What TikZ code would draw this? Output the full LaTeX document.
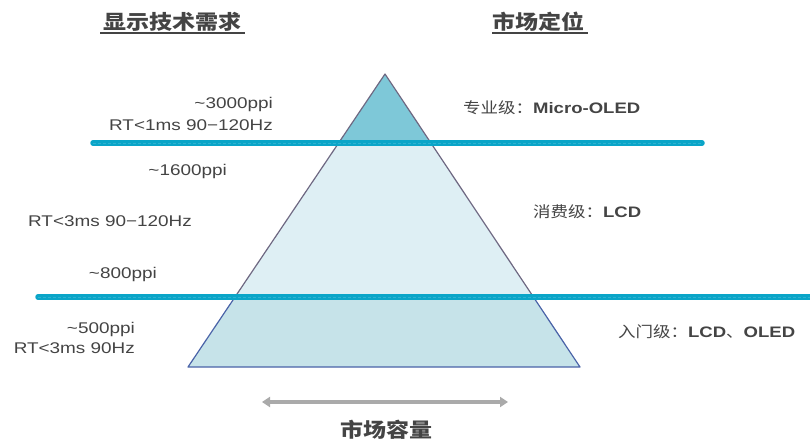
\documentclass[tikz,border=0pt]{standalone}
\usepackage{fontspec}
\setmainfont{Liberation Sans}[FakeStretch=1.22]
\newfontfamily\cjk{Noto Sans CJK SC}[FakeStretch=1.15]
\usetikzlibrary{arrows.meta}
\definecolor{txt}{RGB}{68,68,68}
\definecolor{topfill}{RGB}{126,200,216}
\definecolor{midfill}{RGB}{222,239,244}
\definecolor{botfill}{RGB}{198,227,233}
\definecolor{edgeA}{RGB}{110,104,130}
\definecolor{edgeB}{RGB}{74,99,168}
\definecolor{lineblue}{RGB}{10,165,200}
\definecolor{arrowgray}{RGB}{170,170,170}
\tikzset{
  lbl/.style={text=txt, inner sep=0pt, font=\fontsize{15.5}{18}\selectfont},
  cnlbl/.style={text=txt, inner sep=0pt, font=\fontsize{15.2}{18}\selectfont},
  head/.style={text=txt, inner sep=0pt, font=\fontsize{20}{24}\selectfont\cjk\bfseries},
  divline/.style={line width=5.5pt, lineblue, line cap=round},
  divdash/.style={line width=0.6pt, lineblue!85!white, dash pattern=on 3pt off 2pt},
}
\begin{document}
\begin{tikzpicture}[x=1pt,y=-1pt]
\useasboundingbox (0,0) rectangle (810,441);
% pyramid coordinates
\coordinate (A) at (385,74);
\coordinate (BL) at (188,367);
\coordinate (BR) at (580,367);
\coordinate (L1) at (338.6,143);
\coordinate (R1) at (430.9,143);
\coordinate (L2) at (235,297);
\coordinate (R2) at (533.4,297);
% fills
\fill[topfill] (A) -- (L1) -- (R1) -- cycle;
\fill[midfill] (L1) -- (L2) -- (R2) -- (R1) -- cycle;
\fill[botfill] (L2) -- (BL) -- (BR) -- (R2) -- cycle;
% edges
\draw[edgeA, line width=1.2pt, line join=round] (L2) -- (A) -- (R2);
\draw[edgeB, line width=1.2pt, line join=round] (L2) -- (BL) -- (BR) -- (R2);
% divider lines
\coordinate (d1a) at (93,143);
\coordinate (d1b) at (702,143);
\coordinate (d2a) at (38,297);
\coordinate (d2b) at (812,297);
\draw[divline] (d1a) -- (d1b);
\draw[divdash] (d1a) -- (d1b);
\draw[divline] (d2a) -- (d2b);
\draw[divdash] (d2a) -- (d2b);
% headings
\node[head] (h1) at (172,22) {显示技术需求};
\node[head] (h2) at (538,22) {市场定位};
\draw[txt, line width=1.3pt] (100,33) -- (245,33);
\draw[txt, line width=1.3pt] (492,33) -- (588,33);
% left labels
\node[lbl, anchor=east] (t1) at (273,104) {\textasciitilde3000ppi};
\node[lbl, anchor=east] (t2) at (273,125) {RT<1ms 90−120Hz};
\node[lbl, anchor=east] (t3) at (227,171) {\textasciitilde1600ppi};
\node[lbl, anchor=east] (t4) at (192,221) {RT<3ms 90−120Hz};
\node[lbl, anchor=east] (t5) at (157,274) {\textasciitilde800ppi};
\node[lbl, anchor=east] (t6) at (135,329) {\textasciitilde500ppi};
\node[lbl, anchor=east] (t7) at (135,348) {RT<3ms 90Hz};
% right labels
\node[cnlbl, anchor=west] (m1) at (463,108) {{\cjk 专业级：}\textbf{Micro-OLED}};
\node[cnlbl, anchor=west] (m2) at (533,212) {{\cjk 消费级：}\textbf{LCD}};
\node[cnlbl, anchor=west] (m3) at (618,332) {{\cjk 入门级：}\textbf{LCD}{\cjk 、}\textbf{OLED}};
% market capacity arrow
\coordinate (ar1) at (262,402);
\coordinate (ar2) at (508,402);
\draw[arrowgray, line width=4pt, {Triangle[length=8pt,width=10pt]}-{Triangle[length=8pt,width=10pt]}] (ar1) -- (ar2);
\node[head] (cap) at (386,430) {市场容量};
\end{tikzpicture}
\end{document}
